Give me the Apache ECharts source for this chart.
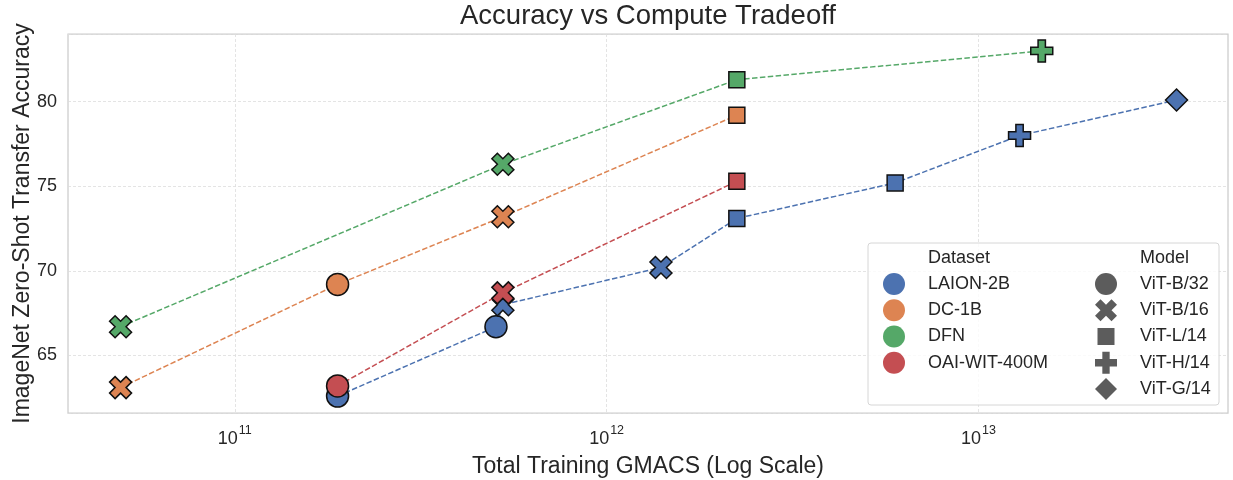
<!DOCTYPE html>
<html lang="en">
  <head>
    <meta charset="UTF-8">
    <title>Accuracy vs Compute Tradeoff</title>
    <style>
      html, body { margin: 0; padding: 0; background: #fff; }
      .chart { width: 1233px; height: 480px; }
    </style>
  </head>
  <body>
    <div id="chart" class="chart"></div>
    <script src="https://cdn.jsdelivr.net/npm/echarts@6/dist/echarts.min.js"></script>
    <script type="text/javascript">
      // data
      var datasets = ['LAION-2B', 'DC-1B', 'DFN', 'OAI-WIT-400M'];
      var models = ['ViT-B/32', 'ViT-B/16', 'ViT-L/14', 'ViT-H/14', 'ViT-G/14'];

      var laionGmacs = [1.89e11, 5.04e11, 5.26e11, 1.40e12, 2.24e12, 5.97e12, 1.29e13, 3.41e13];
      var laionAcc = [62.6, 66.7, 68.0, 70.2, 73.1, 75.2, 78.0, 80.1];
      var laionModel = ['ViT-B/32', 'ViT-B/32', 'ViT-B/16', 'ViT-B/16', 'ViT-L/14', 'ViT-L/14', 'ViT-H/14', 'ViT-G/14'];

      var dcGmacs = [4.93e10, 1.89e11, 5.26e11, 2.24e12];
      var dcAcc = [63.1, 69.2, 73.2, 79.2];
      var dcModel = ['ViT-B/16', 'ViT-B/32', 'ViT-B/16', 'ViT-L/14'];

      var dfnGmacs = [4.93e10, 5.26e11, 2.24e12, 1.48e13];
      var dfnAcc = [66.7, 76.3, 81.3, 83.0];
      var dfnModel = ['ViT-B/16', 'ViT-B/16', 'ViT-L/14', 'ViT-H/14'];

      var oaiGmacs = [1.89e11, 5.26e11, 2.24e12];
      var oaiAcc = [63.2, 68.7, 75.3];
      var oaiModel = ['ViT-B/32', 'ViT-B/16', 'ViT-L/14'];

      var colors = ['#4C72B0', '#DD8452', '#55A868', '#C44E52'];
      var textColor = '#262626';
      var font = '"Liberation Sans", Arial, sans-serif';

      var plusPath = 'path://M-1,-3L1,-3L1,-1L3,-1L3,1L1,1L1,3L-1,3L-1,1L-3,1L-3,-1L-1,-1Z';
      var crossPath = 'path://M2,-4L4,-2L2,0L4,2L2,4L0,2L-2,4L-4,2L-2,0L-4,-2L-2,-4L0,-2Z';
      var markers = {
        'ViT-B/32': { symbol: 'circle', size: 22, icon: 'circle' },
        'ViT-B/16': { symbol: crossPath, size: 22, icon: crossPath },
        'ViT-L/14': { symbol: 'rect', size: 16, icon: 'path://M-11,-11M11,11M-8.5,-8.5L8.5,-8.5L8.5,8.5L-8.5,8.5Z' },
        'ViT-H/14': { symbol: plusPath, size: 22, icon: plusPath },
        'ViT-G/14': { symbol: 'diamond', size: 22, icon: 'path://M0,-1L1,0L0,1L-1,0Z' }
      };

      function points(xs, ys, ms) {
        return xs.map(function (x, i) {
          return {
            value: [x, ys[i]],
            symbol: markers[ms[i]].symbol,
            symbolSize: markers[ms[i]].size
          };
        });
      }

      var seriesData = [
        points(laionGmacs, laionAcc, laionModel),
        points(dcGmacs, dcAcc, dcModel),
        points(dfnGmacs, dfnAcc, dfnModel),
        points(oaiGmacs, oaiAcc, oaiModel)
      ];

      var series = datasets.map(function (name, i) {
        return {
          name: name,
          type: 'line',
          data: seriesData[i],
          color: colors[i],
          z: 2 + i,
          lineStyle: { width: 1.5, type: [5.5, 2.4], color: colors[i] },
          itemStyle: { color: colors[i], borderColor: '#111', borderWidth: 1.5, opacity: 1 },
          emphasis: { disabled: true },
          animation: false
        };
      });
      // empty series only to give the model legend its markers
      models.forEach(function (m) {
        series.push({
          name: m,
          type: 'scatter',
          data: [],
          symbol: markers[m].symbol,
          itemStyle: { color: '#333' }
        });
      });

      var isPow10 = function (v) {
        var l = Math.log10(v);
        return Math.abs(l - Math.round(l)) < 1e-6;
      };

      // legend box is placed by its drawn content; icons are centred in a 58px slot
      var legendBase = {
        orient: 'vertical',
        top: 273,
        padding: 0,
        z: 60,
        itemWidth: 58,
        itemHeight: 22,
        itemGap: 4.25,
        selectedMode: false,
        symbolKeepAspect: true,
        itemStyle: { borderWidth: 0 },
        textStyle: { fontSize: 18, color: textColor, fontFamily: font }
      };

      var myChart = echarts.init(document.getElementById('chart'));
      var option = {
        backgroundColor: '#fff',
        animation: false,
        textStyle: { fontFamily: font, color: textColor },
        title: {
          text: 'Accuracy vs Compute Tradeoff',
          left: 648,
          textAlign: 'center',
          top: 2,
          padding: 0,
          textStyle: { fontFamily: font, fontSize: 27.5, fontWeight: 'normal', color: textColor }
        },
        grid: {
          left: 68, right: 5, top: 34, bottom: 67,
          outerBoundsMode: 'none',
          containLabel: false,
          show: true, borderColor: '#cccccc', borderWidth: 1.25, backgroundColor: 'transparent'
        },
        xAxis: {
          type: 'log',
          logBase: 10,
          min: 3.56e10,
          max: 4.69e13,
          name: 'Total Training GMACS (Log Scale)',
          nameLocation: 'middle',
          nameGap: 42,
          nameTextStyle: { fontSize: 23, color: textColor, fontFamily: font },
          axisLine: { show: false },
          axisTick: { show: false },
          minorTick: { show: false },
          splitLine: { show: true, lineStyle: { color: '#dddddd', width: 0.8, type: [3, 2] } },
          axisLabel: {
            margin: 11,
            showMinLabel: false,
            showMaxLabel: false,
            formatter: function (v) {
              if (!isPow10(v)) return '';
              return '{b|10}{s|' + Math.round(Math.log10(v)) + '}';
            },
            rich: {
              b: { fontSize: 18, color: textColor, fontFamily: font, lineHeight: 24, verticalAlign: 'bottom' },
              s: { fontSize: 12.5, color: textColor, fontFamily: font, verticalAlign: 'top', padding: [0, 0, 0, 1] }
            }
          }
        },
        yAxis: {
          type: 'value',
          min: 61.6,
          max: 84.0,
          splitNumber: 5,
          name: 'ImageNet Zero-Shot Transfer Accuracy',
          nameLocation: 'middle',
          nameGap: 34,
          nameMoveOverlap: false,
          nameTextStyle: { fontSize: 23, color: textColor, fontFamily: font },
          axisLine: { show: false },
          axisTick: { show: false },
          splitLine: { show: true, lineStyle: { color: '#dddddd', width: 0.8, type: [3, 2] } },
          axisLabel: {
            margin: 11,
            fontSize: 18,
            color: textColor,
            showMinLabel: false,
            showMaxLabel: false,
            formatter: function (v) {
              return Math.abs(v % 5) < 1e-6 ? String(v) : '';
            }
          }
        },
        legend: [
          Object.assign({}, legendBase, {
            left: 883,
            data: datasets.map(function (d) { return { name: d, icon: 'circle' }; })
          }),
          Object.assign({}, legendBase, {
            left: 1095,
            data: models.map(function (m) { return { name: m, icon: markers[m].icon }; })
          })
        ],
        graphic: [{
          type: 'rect',
          z: 50,
          shape: { x: 868, y: 243, width: 351, height: 162, r: 3 },
          style: { fill: 'rgba(255,255,255,0.8)', stroke: '#d6d6d6', lineWidth: 1 }
        }, {
          type: 'text',
          z: 61,
          left: 928, top: 249,
          style: { text: 'Dataset', font: '18px ' + font, fill: textColor }
        }, {
          type: 'text',
          z: 61,
          left: 1140, top: 249,
          style: { text: 'Model', font: '18px ' + font, fill: textColor }
        }],
        series: series
      };
      myChart.setOption(option);
    </script>
  </body>
</html>
